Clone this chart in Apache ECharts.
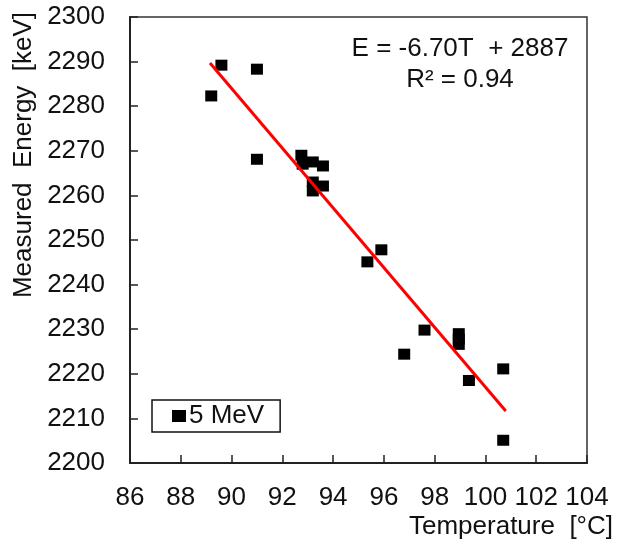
<!DOCTYPE html>
<html>
<head>
<meta charset="utf-8">
<script src="https://cdn.jsdelivr.net/npm/echarts@6/dist/echarts.min.js"></script>
<style>
  html, body { margin: 0; padding: 0; background: #fff; }
  #chart { width: 619px; height: 546px; }
</style>
</head>
<body>
<div id="chart"></div>
<script>
// Measured energy of the 5 MeV line versus temperature
const temperature = [89.2, 89.6, 91.0, 91.0, 92.75, 92.8, 93.2, 93.6, 93.2, 93.2, 93.6,
                     95.35, 95.9, 96.8, 97.6, 98.95, 98.95, 98.95, 99.35, 100.7, 100.7];
const energy = [2282.3, 2289.2, 2288.3, 2268.1, 2269.0, 2267.0, 2267.5, 2266.6, 2263.0, 2261.0, 2262.1,
                2245.1, 2247.8, 2224.4, 2229.8, 2229.0, 2227.8, 2226.6, 2218.5, 2221.1, 2205.1];

// Linear fit E = slope * T + intercept, drawn over the temperature span of the data
const fitSlope = [-6.70];
const fitIntercept = [2887];
const fitRange = [89.15, 100.8];
const fitLabels = ['E = -6.70T  + 2887', 'R\u00B2 = 0.94'];

const xTicks = [86, 88, 90, 92, 94, 96, 98, 100, 102, 104];
const yTicks = [2200, 2210, 2220, 2230, 2240, 2250, 2260, 2270, 2280, 2290, 2300];
const seriesName = '5 MeV';
const xTitle = 'Temperature  [\u00B0C]';
const yTitle = 'Measured  Energy  [keV]';

const FONT = '"Liberation Sans", Arial, sans-serif';
const INK = '#111';
const FS = 26;

const points = temperature.map((t, i) => [t, energy[i]]);
const fitLine = fitRange.map(t => [t, fitSlope[0] * t + fitIntercept[0]]);

const chart = echarts.init(document.getElementById('chart'), null, { renderer: 'canvas' });
chart.setOption({
  animation: false,
  backgroundColor: '#fff',
  textStyle: { fontFamily: FONT },
  grid: {
    left: 130, right: 32, top: 17, bottom: 83,
    show: true, borderColor: '#333', borderWidth: 1.5, backgroundColor: 'transparent'
  },
  xAxis: {
    type: 'value',
    min: xTicks[0], max: xTicks[xTicks.length - 1], interval: 2,
    axisLine: { show: true, onZero: false, lineStyle: { color: '#222', width: 2 } },
    axisTick: { show: true, inside: true, length: 8, lineStyle: { color: '#222', width: 1.5 } },
    axisLabel: { color: INK, fontSize: FS, fontFamily: FONT, margin: 22, formatter: v => String(v) },
    splitLine: { show: false },
    name: xTitle,
    nameLocation: 'end',
    nameGap: 26,
    nameTextStyle: {
      color: INK, fontSize: FS, fontFamily: FONT,
      align: 'right', verticalAlign: 'top', padding: [51, 0, 0, 0]
    }
  },
  yAxis: {
    type: 'value',
    min: yTicks[0], max: yTicks[yTicks.length - 1], interval: 10,
    axisLine: { show: true, onZero: false, lineStyle: { color: '#222', width: 2 } },
    axisTick: { show: true, inside: true, length: 8, lineStyle: { color: '#222', width: 1.5 } },
    axisLabel: { color: INK, fontSize: FS, fontFamily: FONT, margin: 25, formatter: v => String(v) },
    splitLine: { show: false }
  },
  legend: {
    data: [{ name: seriesName, icon: 'rect', itemStyle: { color: '#000', opacity: 1 } }],
    left: 152, top: 400,
    orient: 'horizontal',
    itemWidth: 14, itemHeight: 12, itemGap: 6,
    padding: [3, 16, 3, 20],
    borderColor: '#111', borderWidth: 1.5,
    textStyle: { color: INK, fontSize: FS, fontFamily: FONT, padding: [0, 0, 0, -2] }
  },
  graphic: [
    {
      type: 'text', x: 24, y: 155, rotation: Math.PI / 2, z: 10,
      style: { text: yTitle, fill: INK, font: FS + 'px ' + FONT, align: 'center', verticalAlign: 'middle' }
    },
    {
      type: 'text', x: 460, y: 49, z: 10,
      style: { text: fitLabels[0], fill: INK, font: FS + 'px ' + FONT, align: 'center', verticalAlign: 'middle' }
    },
    {
      type: 'text', x: 460, y: 80, z: 10,
      style: { text: fitLabels[1], fill: INK, font: FS + 'px ' + FONT, align: 'center', verticalAlign: 'middle' }
    }
  ],
  series: [
    {
      name: seriesName,
      type: 'scatter',
      data: points,
      symbol: 'rect',
      symbolSize: [12, 11],
      itemStyle: { color: '#000', opacity: 1 },
      z: 2
    },
    {
      name: 'fit',
      type: 'line',
      data: fitLine,
      showSymbol: false,
      symbol: 'none',
      lineStyle: { color: '#ff0000', width: 3 },
      z: 3
    }
  ]
});
</script>
</body>
</html>
